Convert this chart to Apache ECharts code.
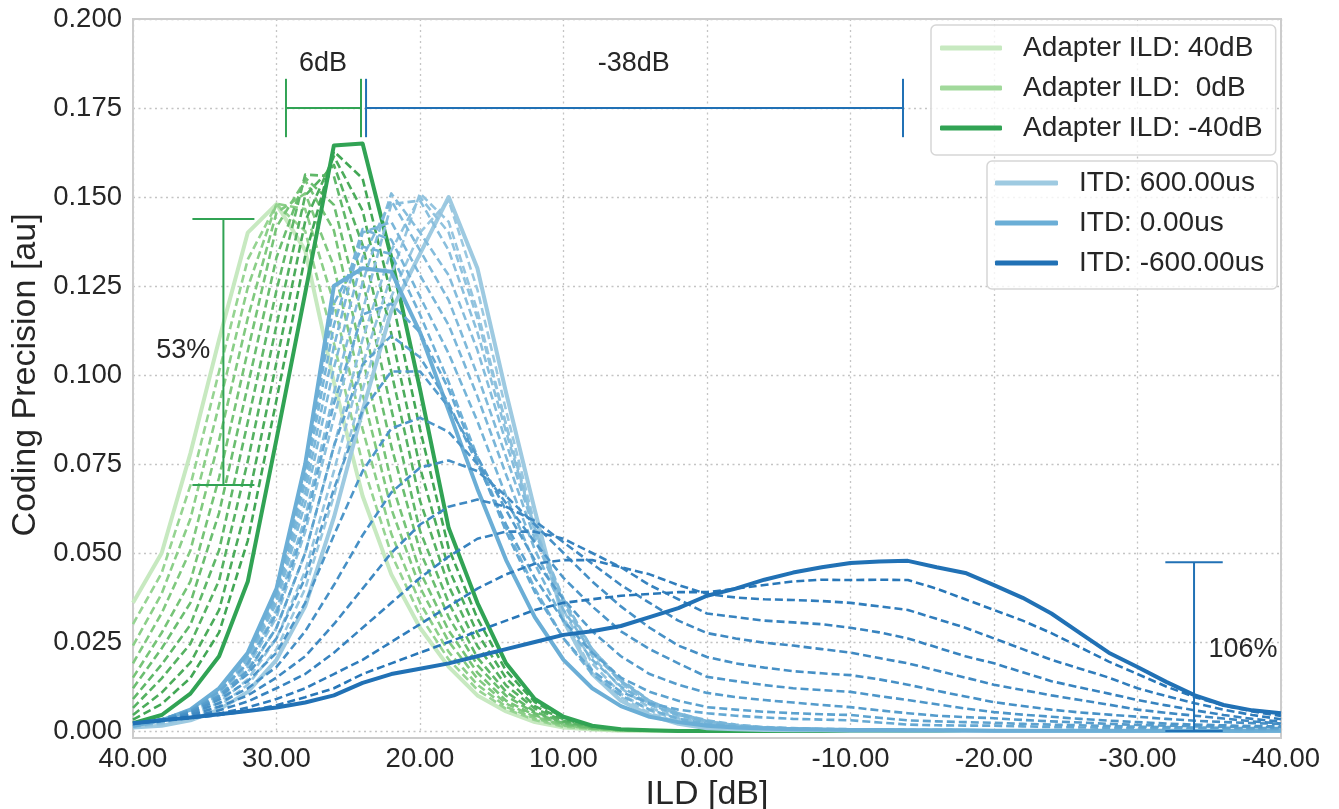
<!DOCTYPE html>
<html><head><meta charset="utf-8">
<script src="https://cdn.jsdelivr.net/npm/echarts@6/dist/echarts.min.js"></script>
<style>html,body{margin:0;padding:0;background:#fff}#c{width:1339px;height:809px}</style>
</head><body><div id="c"></div>
<script>
// ILD axis samples (dB)
const ILD = [40,38,36,34,32,30,28,26,24,22,20,18,16,14,12,10,8,6,4,2,0,-2,-4,-6,-8,-10,-12,-14,-16,-18,-20,-22,-24,-26,-28,-30,-32,-34,-36,-38,-40];
const X_TICKS = [40,30,20,10,0,-10,-20,-30,-40];
const Y_TICKS = [0,0.025,0.05,0.075,0.1,0.125,0.15,0.175,0.2];

// Green family: adapter ILD sweep (40dB -> -40dB)
const G0  = [0.036,0.050,0.078,0.110,0.140,0.148,0.135,0.098,0.066,0.044,0.029,0.018,0.010,0.0055,0.0025,0.001,0.0004,0.0001,0,0,0,0,0,0,0,0,0,0,0,0,0,0,0,0,0,0,0,0,0,0,0];
const G1  = [0.030,0.0444,0.069,0.101,0.1325,0.1479,0.1404,0.109,0.075,0.0497,0.0324,0.0201,0.0116,0.0062,0.0031,0.0012,0.0005,0.0001,0,0,0,0,0,0,0,0,0,0,0,0,0,0,0,0,0,0,0,0,0,0,0];
const G2  = [0.024,0.0386,0.0596,0.0916,0.1246,0.1481,0.1466,0.1202,0.0848,0.0554,0.036,0.0222,0.013,0.0068,0.0035,0.0015,0.0006,0.0002,0,0,0,0,0,0,0,0,0,0,0,0,0,0,0,0,0,0,0,0,0,0,0];
const G3  = [0.019,0.0331,0.0507,0.0817,0.116,0.1456,0.151,0.1305,0.0947,0.0624,0.0403,0.0251,0.0147,0.0077,0.004,0.0017,0.0007,0.0002,0.0001,0,0,0,0,0,0,0,0,0,0,0,0,0,0,0,0,0,0,0,0,0,0];
const G4  = [0.015,0.0276,0.042,0.0712,0.1068,0.1416,0.1547,0.1406,0.1048,0.070,0.0448,0.0282,0.0164,0.0085,0.0044,0.0019,0.0007,0.0003,0.0001,0,0,0,0,0,0,0,0,0,0,0,0,0,0,0,0,0,0,0,0,0,0];
const G5  = [0.012,0.0232,0.036,0.0613,0.097,0.133,0.1554,0.1478,0.1158,0.080,0.0505,0.032,0.0185,0.0099,0.005,0.0022,0.0009,0.0003,0.0001,0,0,0,0,0,0,0,0,0,0,0,0,0,0,0,0,0,0,0,0,0,0];
const G6  = [0.009,0.0187,0.0298,0.0508,0.0868,0.1238,0.1563,0.1558,0.1266,0.0904,0.0562,0.036,0.0206,0.011,0.0054,0.0025,0.001,0.0004,0.0001,0,0,0,0,0,0,0,0,0,0,0,0,0,0,0,0,0,0,0,0,0,0];
const G7  = [0.0065,0.0148,0.0245,0.0423,0.0758,0.114,0.1504,0.159,0.1365,0.1009,0.0647,0.0407,0.0239,0.0128,0.0063,0.0029,0.0012,0.0004,0.0001,0,0,0,0,0,0,0,0,0,0,0,0,0,0,0,0,0,0,0,0,0,0];
const G8  = [0.0045,0.0108,0.0192,0.034,0.0644,0.1036,0.1432,0.1614,0.1462,0.1116,0.074,0.0456,0.0274,0.0148,0.007,0.0033,0.0013,0.0004,0.0001,0,0,0,0,0,0,0,0,0,0,0,0,0,0,0,0,0,0,0,0,0,0];
const G9  = [0.0032,0.0076,0.0149,0.0277,0.0535,0.093,0.1334,0.1628,0.1552,0.1224,0.0848,0.0513,0.0316,0.0169,0.0081,0.0038,0.0014,0.0005,0.0002,0,0,0,0,0,0,0,0,0,0,0,0,0,0,0,0,0,0,0,0,0,0];
const G10 = [0.0022,0.0045,0.0105,0.021,0.042,0.082,0.123,0.1645,0.165,0.133,0.096,0.057,0.036,0.019,0.009,0.004,0.0015,0.0005,0.0002,0,0,0,0,0,0,0,0,0,0,0,0,0,0,0,0,0,0,0,0,0,0];

// Blue family: ITD sweep 600us -> -600us
const B0  = [0.001,0.0015,0.003,0.006,0.011,0.02,0.035,0.06,0.09,0.118,0.134,0.15,0.13,0.095,0.062,0.031,0.016,0.0085,0.0045,0.002,0.0008,0.0005,0.0003,0.0002,0.0002,0.0001,0.0001,0.0001,0.0001,0,0,0,0,0,0,0,0,0,0,0,0];
const B1  = [.001,.0018,.0036,.007,.013,.023,.040,.066,.096,.122,.140,.149,.124,.090,.058,.032,.017,.0095,.005,.0025,.0012,.0008,.0005,.0003,.0002,.0002,.0001,.0001,.0001,.0001,.0001,0,0,0,0,0,0,0,0,0,0];
const B2  = [.0011,.002,.004,.008,.0145,.026,.045,.073,.103,.128,.151,.143,.118,.086,.056,.034,.019,.0105,.0058,.003,.0015,.0009,.0006,.0004,.0003,.0002,.0002,.0001,.0001,.0001,.0001,.0001,0,0,0,0,0,0,0,0,0];
const B3  = [.0012,.0022,.0045,.009,.0165,.029,.050,.080,.110,.135,.150,.140,.116,.086,.057,.036,.021,.012,.0066,.0035,.0018,.0011,.0007,.0005,.0003,.0003,.0002,.0002,.0001,.0001,.0001,.0001,.0001,0,0,0,0,0,0,0,0];
const B4  = [.0012,.0024,.005,.010,.018,.032,.056,.088,.118,.148,.149,.135,.112,.084,.057,.037,.023,.0135,.0075,.004,.0021,.0013,.0008,.0006,.0004,.0003,.0003,.0002,.0002,.0001,.0001,.0001,.0001,.0001,0,0,0,0,0,0,0];
const B5  = [.0013,.0025,.0052,.0105,.019,.034,.060,.095,.126,.151,.140,.128,.107,.081,.056,.037,.023,.014,.008,.0045,.0024,.0014,.0009,.0006,.0005,.0004,.0003,.0002,.0002,.0002,.0001,.0001,.0001,.0001,.0001,0,0,0,0,0,0];
const B6  = [.0013,.0026,.0054,.011,.020,.036,.064,.102,.133,.149,.135,.121,.100,.077,.054,.036,.023,.0145,.0085,.005,.0028,.0016,.001,.0007,.0005,.0004,.0003,.0003,.0002,.0002,.0002,.0001,.0001,.0001,.0001,.0001,0,0,0,0,0];
const B7  = [.0014,.0027,.0056,.0112,.0205,.037,.067,.108,.140,.143,.128,.114,.094,.072,.051,.034,.022,.014,.0085,.005,.003,.0018,.0011,.0008,.0006,.0005,.0004,.0003,.0003,.0002,.0002,.0002,.0001,.0001,.0001,.0001,.0001,0,0,0,0];
const B8  = [.0014,.0028,.0058,.0115,.021,.038,.070,.114,.141,.138,.122,.106,.087,.066,.047,.031,.020,.0125,.0075,.0045,.0027,.0016,.001,.0007,.0005,.0004,.0004,.0003,.0003,.0002,.0002,.0002,.0001,.0001,.0001,.0001,.0001,.0001,0,0,0];
const B9  = [.0015,.0029,.0059,.0118,.0215,.039,.072,.120,.136,.134,.117,.098,.077,.057,.040,.026,.016,.010,.006,.0035,.002,.0013,.0009,.0006,.0005,.0004,.0003,.0003,.0003,.0002,.0002,.0002,.0001,.0001,.0001,.0001,.0001,.0001,.0001,0,0];
const B10 = [0.0015,0.003,0.006,0.012,0.022,0.04,0.075,0.125,0.13,0.129,0.112,0.09,0.068,0.048,0.032,0.02,0.012,0.007,0.004,0.0025,0.0015,0.001,0.0007,0.0005,0.0004,0.0003,0.0003,0.0002,0.0002,0.0002,0.0001,0.0001,0.0001,0.0001,0.0001,0.0001,0.0001,0.0001,0.0001,0.0001,0.0001];
const B11 = [.0018,.0032,.006,.011,.019,.033,.058,.092,.117,.120,.112,.096,.076,.056,.039,.026,.017,.011,.0078,.006,.005,.0043,.0038,.0034,.0032,.003,.0024,.0018,.0016,.0015,.0015,.0013,.0011,.001,.0009,.0008,.0007,.0006,.0006,.0005,.0005];
const B12 = [.0019,.0033,.0058,.010,.017,.029,.050,.080,.103,.111,.105,.092,.075,.058,.043,.031,.022,.015,.011,.0085,.0067,.006,.0054,.005,.0047,.0045,.0037,.003,.0027,.0025,.0023,.002,.0018,.0016,.0014,.0012,.0011,.001,.0009,.0008,.0008];
const B13 = [.002,.0033,.0056,.0095,.016,.026,.043,.068,.090,.101,.101,.091,.077,.062,.048,.037,.028,.021,.016,.013,.0107,.0095,.0087,.008,.0073,.0067,.0058,.005,.0043,.0039,.0036,.0031,.0027,.0024,.002,.0017,.0015,.0013,.0012,.0011,.001];
const B14 = [.002,.0032,.0053,.0088,.014,.022,.036,.055,.073,.085,.088,.084,.075,.064,.053,.043,.035,.028,.023,.019,.0152,.014,.0129,.012,.0115,.011,.0098,.0087,.0075,.0063,.0053,.0046,.004,.0034,.0029,.0025,.0021,.0018,.0016,.0014,.0013];
const B15 = [.002,.0031,.005,.0078,.012,.018,.028,.041,.055,.067,.074,.076,.073,.066,.058,.050,.042,.035,.029,.024,.0208,.019,.0178,.0168,.0162,.0157,.0145,.013,.0113,.0097,.0081,.007,.006,.0052,.0046,.004,.0034,.0029,.0025,.0022,.002];
const B16 = [.0021,.003,.0045,.0068,.010,.015,.021,.030,.040,.050,.058,.063,.065,.063,.059,.053,.047,.041,.036,.031,.0275,.026,.0248,.024,.023,.022,.0205,.019,.017,.015,.013,.0115,.010,.0087,.0074,.006,.0051,.0043,.0035,.0027,.0021];
const B17 = [.0021,.0029,.004,.0058,.0083,.012,.016,.022,.029,.036,.043,.049,.054,.056,.056,.054,.050,.046,.041,.037,.033,.032,.031,.0305,.030,.029,.0277,.026,.0235,.021,.019,.0165,.014,.0122,.0105,.0087,.0072,.0058,.0045,.0034,.0026];
const B18 = [.0022,.0029,.0037,.0049,.0066,.009,.012,.016,.020,.025,.030,.035,.040,.044,.047,.048,.048,.046,.044,.041,.0385,.0375,.037,.0368,.0365,.036,.035,.034,.0315,.029,.026,.023,.020,.0175,.015,.012,.0098,.0078,.006,.0045,.0033];
const B19 = [.0022,.0029,.0036,.0045,.0056,.0072,.0095,.012,.016,.019,.022,.025,.028,.031,.034,.036,.037,.038,.0385,.039,.039,.040,.041,.042,.0425,.0424,.0425,.0424,.040,.037,.034,.031,.0275,.0235,.0195,.016,.0125,.0095,.0072,.0055,.0042];
const B20 = [0.0022,0.003,0.0038,0.0047,0.0056,0.0066,0.008,0.01,0.0135,0.016,0.0175,0.019,0.021,0.023,0.025,0.027,0.028,0.0295,0.032,0.0345,0.038,0.04,0.0425,0.0445,0.046,0.0472,0.0476,0.0478,0.046,0.0444,0.041,0.0374,0.033,0.0275,0.022,0.018,0.0138,0.01,0.0073,0.0058,0.005];

// Annotation values (data units)
const SHIFT_GREEN = [29.34, 24.11];
const SHIFT_BLUE = [23.76, -13.66];
const SHIFT_Y = 0.175, CAP_H = 0.0082;
const RANGE_GREEN = {x: 33.7, lo: 0.0691, hi: 0.1438, cap: 2.16};
const RANGE_BLUE = {x: -33.94, lo: 0.0, hi: 0.0474, cap: 2.0};
const LABELS = [
  {text:'6dB', x:26.76, y:0.1876},
  {text:'-38dB', x:5.1, y:0.1876},
  {text:'53%', x:36.5, y:0.1068},
  {text:'106%', x:-37.35, y:0.0228}
];

const FONT = '"Liberation Sans", Arial, Helvetica, sans-serif';
const TXT = '#262626';
const GREEN_LIGHT = '#c7e9c0', GREEN_MID = '#a1d99b', GREEN_DARK = '#31a354';
const BLUE_LIGHT = '#9ecae1', BLUE_MID = '#6baed6', BLUE_DARK = '#2171b5';
const GREEN_DASH_COLORS = ['#96d492','#8bcf88','#80c97f','#76c477','#6bbe70','#60b869','#56b262','#4cac5b','#42a755'];
const BLUE_UP_COLORS = ['#99c7e0','#94c4df','#8fc2de','#8abfdd','#84bcdc','#7fb9da','#7ab6d9','#75b4d8','#70b1d7'];
const BLUE_LO_COLORS = ['#64a8d3','#5ca2cf','#559ccc','#4d96c9','#4690c6','#3f89c2','#3783bf','#307dbc','#2877b8'];

function pairs(vals){ return vals.map((v,i)=>[ILD[i], v]); }
function lineSeries(name, vals, color, solid){
  return {type:'line', name, data:pairs(vals), showSymbol:false, symbol:'none', silent:true,
    lineStyle:{color, width: solid?4:2.6, type: solid?'solid':[8,4], cap:'butt', join:'round'},
    itemStyle:{color}, z:2, animation:false};
}
const series = [];
const GREENS = [G0,G1,G2,G3,G4,G5,G6,G7,G8,G9,G10];
GREENS.forEach((g,k)=>{
  if(k===0) series.push(lineSeries('Adapter ILD: 40dB', g, GREEN_LIGHT, true));
  else if(k===10) series.push(lineSeries('Adapter ILD: -40dB', g, GREEN_DARK, true));
  else if(k===5) series.push(lineSeries('Adapter ILD:  0dB', g, GREEN_DASH_COLORS[k-1], false));
  else series.push(lineSeries('g'+k, g, GREEN_DASH_COLORS[k-1], false));
});
const BLUES = [B0,B1,B2,B3,B4,B5,B6,B7,B8,B9,B10,B11,B12,B13,B14,B15,B16,B17,B18,B19,B20];
BLUES.forEach((b,j)=>{
  if(j===0) series.push(lineSeries('ITD: 600.00us', b, BLUE_LIGHT, true));
  else if(j===10) series.push(lineSeries('ITD: 0.00us', b, BLUE_MID, true));
  else if(j===20) series.push(lineSeries('ITD: -600.00us', b, BLUE_DARK, true));
  else if(j<10) series.push(lineSeries('b'+j, b, BLUE_UP_COLORS[j-1], false));
  else series.push(lineSeries('b'+j, b, BLUE_LO_COLORS[j-11], false));
});

function seg(pts, color){
  return {type:'line', data:pts, showSymbol:false, symbol:'none', silent:true, animation:false,
    lineStyle:{color, width:2, type:'solid'}, z:3};
}
series.push(seg([[SHIFT_GREEN[0],SHIFT_Y],[SHIFT_GREEN[1],SHIFT_Y]], GREEN_DARK));
SHIFT_GREEN.forEach(x=>series.push(seg([[x,SHIFT_Y-CAP_H],[x,SHIFT_Y+CAP_H]], GREEN_DARK)));
series.push(seg([[SHIFT_BLUE[0],SHIFT_Y],[SHIFT_BLUE[1],SHIFT_Y]], BLUE_DARK));
SHIFT_BLUE.forEach(x=>series.push(seg([[x,SHIFT_Y-CAP_H],[x,SHIFT_Y+CAP_H]], BLUE_DARK)));
[[RANGE_GREEN, GREEN_DARK],[RANGE_BLUE, BLUE_DARK]].forEach(([r,c])=>{
  series.push(seg([[r.x,r.lo],[r.x,r.hi]], c));
  series.push(seg([[r.x+r.cap,r.lo],[r.x-r.cap,r.lo]], c));
  series.push(seg([[r.x+r.cap,r.hi],[r.x-r.cap,r.hi]], c));
});
series.push({type:'scatter', silent:true, animation:false, symbolSize:0, z:5,
  itemStyle:{opacity:1},
  data: LABELS.map(l=>({value:[l.x,l.y], label:{show:true, formatter:l.text, position:'inside',
    fontSize:27, color:TXT, fontFamily:FONT, textBorderWidth:0, opacity:1}}))});

const legendCommon = {orient:'vertical', itemGap:10, itemHeight:5, icon:'roundRect',
  backgroundColor:'rgba(255,255,255,0.8)', borderColor:'#d6d6d6', borderWidth:1.5, borderRadius:5,
  textStyle:{fontSize:28, color:TXT, fontFamily:FONT, lineHeight:30, padding:[0,0,0,16]}, selectedMode:false};

const chart = echarts.init(document.getElementById('c'), null, {renderer:'canvas'});
chart.setOption({
  animation:false,
  backgroundColor:'#fff',
  grid:{left:133, right:58, top:19, bottom:78, containLabel:false, outerBoundsMode:'none'},
  xAxis:{type:'value', inverse:true, min:-40, max:40, interval:10,
    name:'ILD [dB]', nameLocation:'middle', nameGap:42,
    nameTextStyle:{fontSize:34, color:TXT, fontFamily:FONT},
    axisLine:{show:false}, axisTick:{show:false},
    axisLabel:{fontSize:27.5, color:TXT, fontFamily:FONT, margin:14, formatter:v=>v.toFixed(2)},
    splitLine:{show:true, lineStyle:{color:'#c4c4c4', width:1.3, type:[2,3.5]}}},
  yAxis:{type:'value', min:0, max:0.2, interval:0.025,
    name:'Coding Precision [au]', nameLocation:'middle', nameGap:81, nameRotate:90,
    nameTextStyle:{fontSize:34, color:TXT, fontFamily:FONT},
    axisLine:{show:false}, axisTick:{show:false},
    axisLabel:{fontSize:27.5, color:TXT, fontFamily:FONT, margin:11, formatter:v=>v.toFixed(3)},
    splitLine:{show:true, lineStyle:{color:'#c4c4c4', width:1.3, type:[2,3.5]}}},
  legend:[
    Object.assign({}, legendCommon, {left:931, top:25, padding:[8,13,12,9], itemWidth:62,
      data:[{name:'Adapter ILD: 40dB', itemStyle:{color:GREEN_LIGHT}},
            {name:'Adapter ILD:  0dB', itemStyle:{color:GREEN_MID}},
            {name:'Adapter ILD: -40dB', itemStyle:{color:GREEN_DARK}}]}),
    Object.assign({}, legendCommon, {left:987, top:161, padding:[7,13,11,8], itemWidth:63,
      data:[{name:'ITD: 600.00us', itemStyle:{color:BLUE_LIGHT}},
            {name:'ITD: 0.00us', itemStyle:{color:BLUE_MID}},
            {name:'ITD: -600.00us', itemStyle:{color:BLUE_DARK}}]})
  ],
  graphic:[{type:'rect', shape:{x:133, y:19, width:1148, height:719}, silent:true, z:1,
    style:{fill:null, stroke:'#cccccc', lineWidth:2}}],
  series
});
</script></body></html>
